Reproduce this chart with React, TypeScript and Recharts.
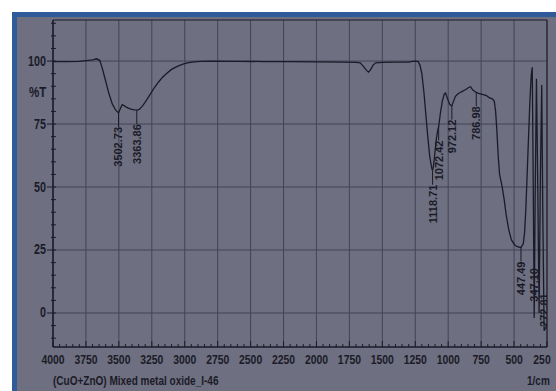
import {
  CartesianGrid,
  ComposedChart,
  Line,
  ReferenceArea,
  Scatter,
  XAxis,
  YAxis,
} from "recharts";

// FTIR spectrum (wavenumber in 1/cm, %T)
const wavenumbers = [
  4000, 3900, 3800, 3750, 3700, 3670, 3645, 3625, 3600, 3575, 3550, 3525,
  3502.73, 3490, 3475, 3460, 3440, 3420, 3400, 3380, 3363.86, 3345, 3320, 3290,
  3260, 3230, 3200, 3170, 3140, 3100, 3060, 3020, 2980, 2930, 2880, 2800, 2600,
  2400, 2200, 2000, 1800, 1700, 1668, 1645, 1620, 1605, 1590, 1570, 1550, 1500,
  1400, 1300, 1260, 1230, 1215, 1200, 1185, 1170, 1155, 1140, 1125, 1118.71,
  1110, 1100, 1090, 1080, 1072.42, 1060, 1045, 1030, 1020, 1005, 990, 980,
  972.12, 960, 945, 925, 900, 870, 845, 830, 815, 800, 786.98, 770, 740, 710,
  690, 665, 650, 640, 630, 620, 610, 600, 590, 575, 560, 540, 520, 495, 470,
  447.49, 430, 420, 410, 400, 390, 380, 370, 362, 355, 347.1, 340, 330, 320,
  310, 300, 290, 282, 272, 262, 250,
];
const transmittance = [
  99.8, 99.8, 99.9, 100.2, 100.5, 100.9, 100.3, 97, 92, 87, 83, 80.6, 79.4, 81,
  82.7, 82.3, 81.6, 81.1, 80.8, 80.6, 80.5, 80.8, 82.2, 84.5, 87, 89.5, 91.6,
  93.5, 95, 96.7, 97.8, 98.7, 99.3, 99.7, 99.9, 100, 99.9, 99.8, 99.8, 99.7,
  99.6, 99.5, 99.3, 98, 96.3, 95.6, 96.5, 98.4, 99.3, 99.5, 99.6, 99.6, 100,
  99.9, 98.5, 95, 88, 79, 70, 62, 57.5, 56.5, 59, 64, 69, 72.5, 74, 79, 84, 87,
  87.3, 85, 83, 82.4, 82.3, 84, 86, 87, 87.8, 88.6, 89.5, 89.8, 88.6, 88, 87.6,
  87.2, 86.8, 86.3, 85.5, 85, 84, 80, 72, 62, 55, 52.5, 50, 45, 39, 33, 29, 27,
  26.2, 26, 27.5, 32, 42, 56, 70, 84, 94, 97.5, 55, -2, 45, 93, 50, 0, 55, 90.5,
  40, -7, -6, -5,
];

const peakWavenumbers = [
  3502.73, 3363.86, 1118.71, 1072.42, 972.12, 786.98, 447.49, 347.1, 272,
];
const peakLabels = [
  "3502.73", "3363.86", "1118.71", "1072.42", "972.12", "786.98", "447.49",
  "347.10", "272.81",
];

const xTicks = Array.from({ length: 76 }, (_, i) => 4000 - i * 50);
const yTicks = Array.from({ length: 26 }, (_, i) => -10 + i * 5);
const xGrid = [4000, 3750, 3500, 3250, 3000, 2750, 2500, 2250, 2000, 1750, 1500, 1250, 1000, 750, 500, 250];
const yGrid = [0, 25, 50, 75, 100];

const spectrum = wavenumbers.map((wn, i) => ({ wn, t: transmittance[i] }));
const peaks = peakWavenumbers.map((wn, i) => ({
  wn,
  t: transmittance[wavenumbers.indexOf(wn)],
  label: peakLabels[i],
}));

const ink = "#1b1b28";
const font = "'Liberation Sans', Arial, sans-serif";
const squeeze = 0.77;

function XTick({ x, y, payload }: any) {
  const v = payload.value;
  const major = v % 250 === 0;
  const tx = v === 250 ? x - 5 : x;
  return (
    <g>
      <line x1={x} x2={x} y1={y} y2={y - (major ? 6 : 3)} stroke={ink} strokeWidth={1} />
      {major && (
        <text
          transform={`translate(${tx} ${y + 17}) scale(${squeeze} 1)`}
          textAnchor="middle"
          fontSize={13.5}
          fontWeight="bold"
          fontFamily={font}
          fill={ink}
        >
          {v}
        </text>
      )}
    </g>
  );
}

function YTick({ x, y, payload }: any) {
  const v = payload.value;
  const major = v % 25 === 0;
  return (
    <g>
      <line x1={major ? x - 6 : x - 2} x2={x + 3} y1={y} y2={y} stroke={ink} strokeWidth={1} />
      {major && (
        <text
          transform={`translate(${x - 7} ${y}) scale(${squeeze} 1)`}
          textAnchor="end"
          dominantBaseline="central"
          fontSize={14}
          fontWeight="bold"
          fontFamily={font}
          fill={ink}
        >
          {v}
        </text>
      )}
    </g>
  );
}

// short drop line under the band, then the rotated wavenumber;
// bands near the floor get their label pushed up beside the line
function PeakMark({ cx, cy, payload }: any) {
  const below = cy + 14;
  const top = below + 38 > 347 ? 2 * cy - 368 : below;
  return (
    <g>
      {top > cy && <line x1={cx} x2={cx} y1={cy} y2={top} stroke={ink} strokeWidth={1} />}
      <text
        x={cx}
        y={top}
        transform={`rotate(-90 ${cx} ${top})`}
        textAnchor="end"
        dominantBaseline="central"
        fontSize={11}
        fontWeight="bold"
        fontFamily={font}
        fill={ink}
      >
        {payload.label}
      </text>
    </g>
  );
}

const caption = {
  position: "absolute" as const,
  fontFamily: font,
  fontWeight: "bold" as const,
  color: ink,
  whiteSpace: "nowrap" as const,
  transform: `scaleX(${squeeze})`,
  transformOrigin: "left top",
};

export default function App() {
  return (
    <div style={{ position: "fixed", left: 0, top: 0, width: 556, height: 391, background: "#fff", overflow: "hidden" }}>
      <div style={{ position: "absolute", left: 12, top: 12, right: 0, bottom: 0, background: "#2f5c98" }} />
      <div style={{ position: "absolute", left: 17, top: 17, right: 0, bottom: 0, background: "#6e6f80" }} />
      <div style={{ position: "absolute", left: 0, top: 0 }}>
        <ComposedChart
          width={556}
          height={391}
          data={spectrum}
          margin={{ top: 20, right: 9, left: 0, bottom: 0 }}
        >
          <CartesianGrid
            stroke="#434456"
            strokeWidth={1}
            verticalValues={xGrid}
            horizontalValues={yGrid}
          />
          <XAxis
            type="number"
            dataKey="wn"
            domain={[250, 4000]}
            reversed
            allowDataOverflow
            ticks={xTicks}
            interval={0}
            height={44}
            tickSize={0}
            tickMargin={0}
            tickLine={false}
            axisLine={{ stroke: ink }}
            tick={<XTick />}
          />
          <YAxis
            type="number"
            domain={[-13.5, 116.3]}
            allowDataOverflow
            ticks={yTicks}
            interval={0}
            width={53}
            tickSize={0}
            tickMargin={0}
            tickLine={false}
            axisLine={{ stroke: ink }}
            tick={<YTick />}
          />
          <ReferenceArea
            x1={4000}
            x2={250}
            y1={-13.5}
            y2={116.3}
            fill="none"
            stroke={ink}
            strokeWidth={1}
            ifOverflow="visible"
          />
          <Line
            type="linear"
            dataKey="t"
            stroke={ink}
            strokeWidth={1.3}
            dot={false}
            isAnimationActive={false}
          />
          <Scatter
            data={peaks}
            dataKey="t"
            shape={<PeakMark />}
            isAnimationActive={false}
          />
        </ComposedChart>
      </div>
      <div style={{ ...caption, left: 29, top: 83, fontSize: 15 }}>%T</div>
      <div style={{ ...caption, left: 53, top: 373, fontSize: 13 }}>
        (CuO+ZnO) Mixed metal oxide_I-46
      </div>
      <div style={{ ...caption, left: 527, top: 373, fontSize: 13 }}>1/cm</div>
    </div>
  );
}
